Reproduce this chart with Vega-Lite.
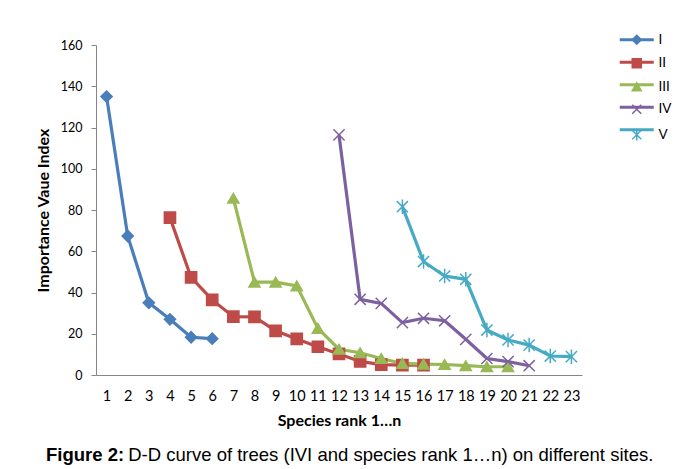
{
  "$schema": "https://vega.github.io/schema/vega-lite/v6.json",
  "width": 486,
  "height": 330,
  "autosize": "none",
  "padding": {"left": 96, "top": 45, "right": 95, "bottom": 94},
  "background": "white",
  "config": {
    "view": {"stroke": null},
    "axis": {"labelFont": "Lato", "titleFont": "Lato", "labelColor": "#000000", "titleColor": "#000000", "domainColor": "#868686", "tickColor": "#868686", "grid": false},
    "legend": {"labelFont": "Lato", "labelColor": "#000000"}
  },
  "data": {
    "values": [
      {"series": "I", "rank": 1, "value": 135},
      {"series": "I", "rank": 2, "value": 67.4},
      {"series": "I", "rank": 3, "value": 35},
      {"series": "I", "rank": 4, "value": 27},
      {"series": "I", "rank": 5, "value": 18.3},
      {"series": "I", "rank": 6, "value": 17.6},
      {"series": "II", "rank": 4, "value": 76.3},
      {"series": "II", "rank": 5, "value": 47.3},
      {"series": "II", "rank": 6, "value": 36.4},
      {"series": "II", "rank": 7, "value": 28.3},
      {"series": "II", "rank": 8, "value": 28.2},
      {"series": "II", "rank": 9, "value": 21.4},
      {"series": "II", "rank": 10, "value": 17.5},
      {"series": "II", "rank": 11, "value": 13.7},
      {"series": "II", "rank": 12, "value": 10.2},
      {"series": "II", "rank": 13, "value": 6.6},
      {"series": "II", "rank": 14, "value": 5},
      {"series": "II", "rank": 15, "value": 4.8},
      {"series": "II", "rank": 16, "value": 4.8},
      {"series": "III", "rank": 7, "value": 85.7},
      {"series": "III", "rank": 8, "value": 45},
      {"series": "III", "rank": 9, "value": 45},
      {"series": "III", "rank": 10, "value": 43.2},
      {"series": "III", "rank": 11, "value": 22.6},
      {"series": "III", "rank": 12, "value": 12.5},
      {"series": "III", "rank": 13, "value": 10.8},
      {"series": "III", "rank": 14, "value": 8},
      {"series": "III", "rank": 15, "value": 5.6},
      {"series": "III", "rank": 16, "value": 5.3},
      {"series": "III", "rank": 17, "value": 5.1},
      {"series": "III", "rank": 18, "value": 4.5},
      {"series": "III", "rank": 19, "value": 4},
      {"series": "III", "rank": 20, "value": 4},
      {"series": "IV", "rank": 12, "value": 116.4},
      {"series": "IV", "rank": 13, "value": 36.7},
      {"series": "IV", "rank": 14, "value": 34.7},
      {"series": "IV", "rank": 15, "value": 25.4},
      {"series": "IV", "rank": 16, "value": 27.5},
      {"series": "IV", "rank": 17, "value": 26.3},
      {"series": "IV", "rank": 18, "value": 17.3},
      {"series": "IV", "rank": 19, "value": 8},
      {"series": "IV", "rank": 20, "value": 6.5},
      {"series": "IV", "rank": 21, "value": 4.5},
      {"series": "V", "rank": 15, "value": 81.6},
      {"series": "V", "rank": 16, "value": 55},
      {"series": "V", "rank": 17, "value": 48},
      {"series": "V", "rank": 18, "value": 46.4},
      {"series": "V", "rank": 19, "value": 21.8},
      {"series": "V", "rank": 20, "value": 17},
      {"series": "V", "rank": 21, "value": 14.5},
      {"series": "V", "rank": 22, "value": 9.2},
      {"series": "V", "rank": 23, "value": 8.9}
    ]
  },
  "title": {
    "text": "Figure 2:",
    "subtitle": "\u200b\u00a0\u00a0\u00a0\u00a0\u00a0\u00a0\u00a0\u00a0\u00a0\u00a0\u00a0\u00a0\u00a0\u00a0\u00a0\u00a0D-D curve of trees (IVI and species rank 1…n) on different sites.",
    "orient": "bottom",
    "anchor": "start",
    "frame": "group",
    "font": "Liberation Sans",
    "fontSize": 18.5,
    "fontWeight": "bold",
    "color": "#000000",
    "subtitleFont": "Liberation Sans",
    "subtitleFontSize": 18.5,
    "subtitleFontWeight": "normal",
    "subtitleColor": "#000000",
    "subtitlePadding": -18.5,
    "dx": -50,
    "offset": 17
  },
  "encoding": {
    "x": {
      "field": "rank",
      "type": "ordinal",
      "scale": {"type": "point", "padding": 0.5, "domain": [1,2,3,4,5,6,7,8,9,10,11,12,13,14,15,16,17,18,19,20,21,22,23]},
      "axis": {"title": "Species rank 1…n", "titleFontSize": 16, "titleFontWeight": "bold", "titlePadding": 10, "labelFontSize": 14.5, "labelAngle": 0, "ticks": false, "labelPadding": 14}
    },
    "y": {
      "field": "value",
      "type": "quantitative",
      "scale": {"domain": [0, 160]},
      "axis": {"title": "Importance Vaue Index", "titleFontSize": 16, "titleFontWeight": "bold", "titlePadding": 9, "labelFontSize": 12.5, "values": [0,20,40,60,80,100,120,140,160], "tickSize": 5, "labelPadding": 9}
    }
  },
  "layer": [
    {
      "mark": {"type": "line", "strokeWidth": 3.2},
      "encoding": {
        "color": {
          "field": "series",
          "type": "nominal",
          "scale": {"domain": ["I", "II", "III", "IV", "V"], "range": ["#4A7EBB", "#BE4B48", "#98B954", "#7D60A0", "#46AAC5"]},
          "legend": {"orient": "none", "legendX": 534, "legendY": -12, "title": null, "padding": 0, "symbolType": "M-3.78,0L3.78,0", "symbolSize": 81, "symbolStrokeWidth": 3, "labelExpr": "''", "labelFontSize": 13.5, "labelOffset": 15, "rowPadding": 7.5}
        }
      }
    },
    {
      "mark": {"type": "point", "filled": true, "opacity": 1, "size": 125, "strokeWidth": 1.5},
      "encoding": {
        "fill": {
          "field": "series",
          "type": "nominal",
          "scale": {"range": ["#4A7EBB", "#BE4B48", "#98B954", "#7D60A0", "#46AAC5"]},
          "legend": {"orient": "none", "legendX": 534, "legendY": -12, "title": null, "padding": 0, "symbolSize": 81, "symbolStrokeWidth": 1.5, "labelFontSize": 13.5, "labelOffset": 15, "rowPadding": 7.5}
        },
        "stroke": {
          "field": "series",
          "type": "nominal",
          "scale": {"range": ["#4A7EBB", "#BE4B48", "#98B954", "#7D60A0", "#46AAC5"]},
          "legend": {"orient": "none", "legendX": 534, "legendY": -12, "title": null, "padding": 0, "symbolSize": 81, "symbolStrokeWidth": 1.5, "labelFontSize": 13.5, "labelOffset": 15, "rowPadding": 7.5}
        },
        "shape": {
          "field": "series",
          "type": "nominal",
          "scale": {"range": ["diamond", "square", "triangle-up", "M-1,-1L1,1M-1,1L1,-1", "M-1,-1L1,1M-1,1L1,-1M0,-1.3L0,1.3"]},
          "legend": {"orient": "none", "legendX": 534, "legendY": -12, "title": null, "padding": 0, "symbolSize": 81, "symbolStrokeWidth": 1.5, "labelFontSize": 13.5, "labelOffset": 15, "rowPadding": 7.5}
        }
      }
    }
  ]
}
